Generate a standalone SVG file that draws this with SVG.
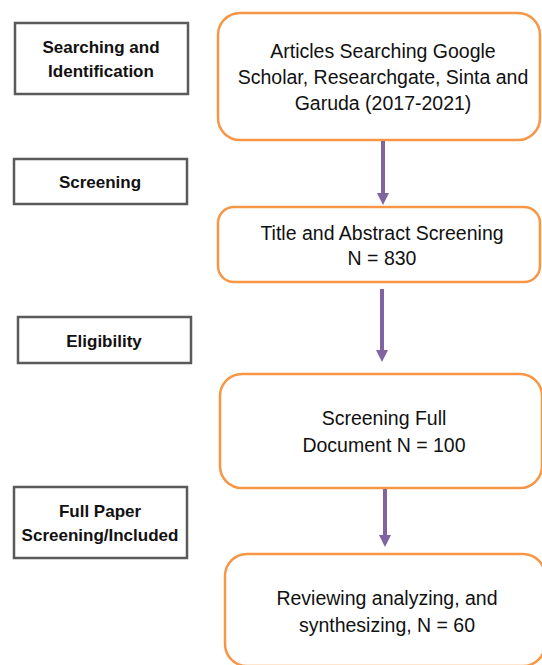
<svg xmlns="http://www.w3.org/2000/svg" width="542" height="665" viewBox="0 0 542 665">
<style>
.stage{fill:#fff;stroke:#5a5a5a;stroke-width:2.5}
.step{fill:#fff;stroke:#F79646;stroke-width:2.5}
.lt{font-family:"Liberation Sans",Arial,sans-serif;font-weight:bold;font-size:17px;fill:#111;text-anchor:middle}
.rt{font-family:"Liberation Sans",Arial,sans-serif;font-size:19.5px;fill:#111;text-anchor:middle}
.conn{stroke:#8064A2;stroke-width:4;fill:none}
.head{fill:#8064A2}
</style>
<rect width="542" height="665" fill="#fff"/>
<g id="stage1"><rect class="stage" x="15" y="23" width="173" height="71"/><text class="lt" x="101" y="53">Searching and</text><text class="lt" x="101" y="77">Identification</text></g>
<g id="stage2"><rect class="stage" x="14" y="159" width="173" height="45"/><text class="lt" x="100" y="188">Screening</text></g>
<g id="stage3"><rect class="stage" x="18" y="317" width="173" height="46"/><text class="lt" x="104" y="347">Eligibility</text></g>
<g id="stage4"><rect class="stage" x="14" y="487" width="173" height="71"/><text class="lt" x="100" y="517">Full Paper</text><text class="lt" x="100" y="541">Screening/Included</text></g>
<g id="step1"><rect class="step" x="218" y="13" width="322" height="127" rx="22"/><text class="rt" x="383" y="58">Articles Searching Google</text><text class="rt" x="383" y="84">Scholar, Researchgate, Sinta and</text><text class="rt" x="383" y="110">Garuda (2017-2021)</text></g>
<g id="step2"><rect class="step" x="218" y="207" width="322" height="75" rx="16"/><text class="rt" x="382" y="240">Title and Abstract Screening</text><text class="rt" x="382" y="265">N = 830</text></g>
<g id="step3"><rect class="step" x="220" y="374" width="322" height="114" rx="22"/><text class="rt" x="384" y="425">Screening Full</text><text class="rt" x="384" y="452">Document N = 100</text></g>
<g id="step4"><rect class="step" x="225" y="554" width="320" height="112" rx="22"/><text class="rt" x="387" y="605">Reviewing analyzing, and</text><text class="rt" x="387" y="632">synthesizing, N = 60</text></g>
<g id="connectors">
<line class="conn" x1="383" y1="141" x2="383" y2="194"/><path class="head" d="M377,193 L389,193 L383,205 Z"/>
<line class="conn" x1="382" y1="289" x2="382" y2="351"/><path class="head" d="M376,350 L388,350 L382,362 Z"/>
<line class="conn" x1="385" y1="489" x2="385" y2="536"/><path class="head" d="M379,535 L391,535 L385,547 Z"/>
</g>
</svg>
